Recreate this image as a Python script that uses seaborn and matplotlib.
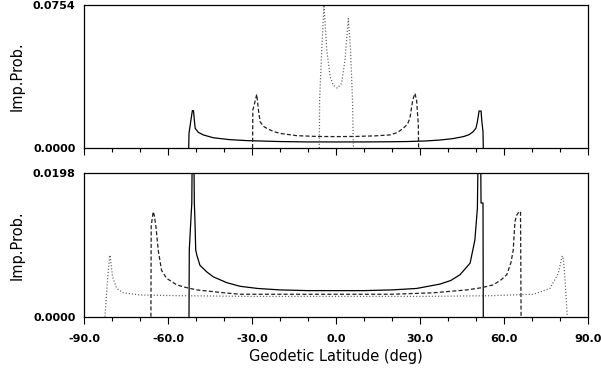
import matplotlib
matplotlib.use('Agg')
import matplotlib.pyplot as plt
from matplotlib.ticker import MultipleLocator
import seaborn as sns

# ── data (latitude in deg, impact probability) ─────────────────────────────
# upper panel
top_solid_lat = [-52.6, -52.5, -51.8, -51.3, -50.9, -50.6, -50.3, -49.2,
                 -47.4, -43.8, -37.9, -31.9, -20, -10, 0, 10, 20, 25.2, 31.9,
                 37.1, 41.5, 45.5, 47.5, 49.0, 50.0, 50.5, 51.1, 51.8, 52.1,
                 52.5, 52.6]
top_solid_p = [0, 0.0077, 0.0148, 0.0197, 0.0197, 0.0148, 0.0104, 0.0083,
               0.0069, 0.0054, 0.0044, 0.0039, 0.0034, 0.0032, 0.0032, 0.0032,
               0.0033, 0.0034, 0.0037, 0.0042, 0.0049, 0.0060, 0.0070, 0.0086,
               0.0105, 0.0139, 0.0195, 0.0195, 0.0139, 0.0086, 0]

top_dash_lat = [-29.8, -29.7, -29.0, -28.3, -27.7, -27.1, -26.0, -24.75,
                -22.5, -20, -14, -7, 0, 7, 14, 19.3, 22, 24, 25.5, 26.4, 27.4,
                28.2, 28.8, 29.4, 29.5]
top_dash_p = [0, 0.0200, 0.0240, 0.0283, 0.0200, 0.0139, 0.0115, 0.0104,
              0.0088, 0.0077, 0.0065, 0.0061, 0.0060, 0.0061, 0.0064, 0.0069,
              0.0082, 0.0104, 0.0125, 0.0157, 0.0253, 0.0288, 0.0250, 0.0120,
              0]

top_dot_lat = [-5.96, -5.85, -5.1, -4.3, -3.3, -2.1, -1.0, 0.5, 2.0, 3.2,
               4.4, 5.2, 5.9, 6.2]
top_dot_p = [0, 0.0250, 0.0516, 0.0754, 0.0516, 0.0376, 0.0332, 0.0315,
             0.0341, 0.0464, 0.0683, 0.0516, 0.0250, 0]

# lower panel
bot_solid_lat = [-52.5, -52.4, -51.8, -51.5, -51.2, -50.9, -50.6, -50.4,
                 -50.1, -49.7, -48.6, -46.2, -43.8, -39, -34.3, -28, -20, -10,
                 0, 10, 20, 28.8, 37.1, 41, 44.3, 47.9, 49.6, 50.5, 51.0, 51.5,
                 51.8, 52.5, 52.6]
bot_solid_p = [0, 0.0092, 0.0136, 0.0157, 0.0300, 0.0300, 0.0157, 0.0136,
               0.0092, 0.0085, 0.0071, 0.0062, 0.0055, 0.0047, 0.0042, 0.0039,
               0.0037, 0.0036, 0.0036, 0.0036, 0.0037, 0.0039, 0.0045, 0.0050,
               0.0058, 0.0074, 0.0106, 0.0150, 0.0300, 0.0300, 0.0157, 0.0157,
               0]

bot_dash_lat = [-66.1, -66.0, -65.3, -64.9, -64.3, -63.5, -62.3, -60.5,
                -56.9, -54.3, -49.75, -40, -34.3, -20, 0, 20, 34.7, 46.7, 52,
                56.2, 59, 61, 62.5, 63.3, 63.9, 64.5, 65.4, 65.9, 66.1]
bot_dash_p = [0, 0.0125, 0.0145, 0.0140, 0.0124, 0.0092, 0.0064, 0.0053,
              0.0044, 0.0041, 0.0037, 0.0033, 0.0031, 0.0031, 0.0031, 0.0031,
              0.0033, 0.0037, 0.0040, 0.0044, 0.0051, 0.0058, 0.0075, 0.0092,
              0.0131, 0.0140, 0.0145, 0.0145, 0]

bot_dot_lat = [-82.5, -82.1, -81.7, -81.2, -80.7, -79.8, -78.3, -76, -70,
               -55.7, -30, 0, 30, 55, 70.5, 76.4, 79.4, 80.8, 81.2, 81.8, 82.3,
               82.6]
bot_dot_p = [0, 0.0023, 0.0046, 0.0069, 0.0085, 0.0055, 0.0039, 0.0033,
             0.0030, 0.0029, 0.0028, 0.0028, 0.0028, 0.0029, 0.0031, 0.0039,
             0.0060, 0.0084, 0.0080, 0.0050, 0.0020, 0]

top_ymax = 0.0754
bot_ymax = 0.0198

sns.set_style('ticks')
plt.rcParams['font.family'] = ['DejaVu Sans']
plt.rcParams['text.color'] = 'black'
plt.rcParams['axes.labelcolor'] = 'black'
plt.rcParams['xtick.color'] = 'black'
plt.rcParams['ytick.color'] = 'black'

W, H = 601, 373
fig = plt.figure(figsize=(W / 100, H / 100), dpi=100)
ax_top = fig.add_axes([84 / W, 1 - 148 / H, 504 / W, 143 / H])
ax_bot = fig.add_axes([84 / W, 1 - 316.7 / H, 504 / W, 143.4 / H])

SOLID = dict(color='black', linewidth=0.9)
DASH = dict(color='#202020', linewidth=0.9, dashes=(3.2, 1.8))
DOT = dict(color='#606060', linewidth=0.9, dashes=(0.9, 1.6))


def draw(ax, lat, p, style):
    line_kw = {k: v for k, v in style.items() if k != 'dashes'}
    sns.lineplot(x=lat, y=p, ax=ax, sort=False, estimator=None, **line_kw)
    if 'dashes' in style:
        ax.lines[-1].set_dashes(style['dashes'])


draw(ax_top, top_solid_lat, top_solid_p, SOLID)
draw(ax_top, top_dash_lat, top_dash_p, DASH)
draw(ax_top, top_dot_lat, top_dot_p, DOT)

draw(ax_bot, bot_solid_lat, bot_solid_p, SOLID)
draw(ax_bot, bot_dash_lat, bot_dash_p, DASH)
draw(ax_bot, bot_dot_lat, bot_dot_p, DOT)

for ax, ymax in [(ax_top, top_ymax), (ax_bot, bot_ymax)]:
    ax.set_xlim(-90, 90)
    ax.set_ylim(0, ymax)
    ax.set_yticks([0, ymax])
    ax.set_yticklabels(['0.0000', f'{ymax:.4f}'])
    ax.xaxis.set_major_locator(MultipleLocator(30))
    ax.xaxis.set_minor_locator(MultipleLocator(10))
    ax.tick_params(axis='x', which='major', direction='out', length=5.2,
                   width=0.8, pad=7.5, labelsize=8, colors='black')
    ax.tick_params(axis='x', which='minor', direction='out', length=2.8,
                   width=0.8, colors='black')
    ax.tick_params(axis='y', length=0, pad=6, labelsize=8, colors='black')
    for lab in ax.get_yticklabels() + ax.get_xticklabels():
        lab.set_fontweight('bold')
    for sp in ax.spines.values():
        sp.set_visible(True)
        sp.set_linewidth(0.9)
        sp.set_color('black')
        sp.set_zorder(5)
    ax.set_ylabel('Imp.Prob.', fontsize=10.5, color='black')
    ax.yaxis.set_label_coords(-0.117, 0.5)
    ax.set_xlabel('')

ax_top.tick_params(axis='x', labelbottom=False)
ax_bot.set_xticks([-90, -60, -30, 0, 30, 60, 90])
ax_bot.set_xticklabels(['-90.0', '-60.0', '-30.0', '0.0', '30.0', '60.0', '90.0'],
                       fontweight='bold')
ax_bot.set_xlabel('Geodetic Latitude (deg)', fontsize=10.5, labelpad=3,
                  color='black')

fig.savefig('out.png', dpi=100)
